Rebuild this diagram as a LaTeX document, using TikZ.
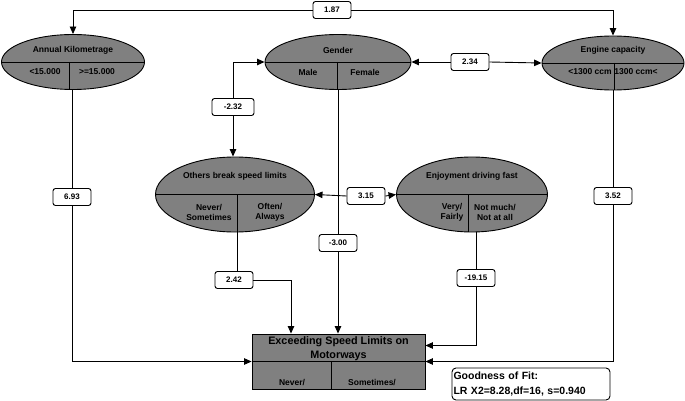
\documentclass[tikz,border=0pt]{standalone}
\usepackage{fontspec}
\setmainfont{Liberation Sans}
\usetikzlibrary{arrows.meta,shapes.geometric}
\definecolor{ellgray}{RGB}{128,128,128}
\tikzset{
  ln/.style={line width=0.9pt},
  >={Triangle[length=7.5pt,width=6.5pt]},
  ell/.style={ellipse, draw, fill=ellgray, line width=0.9pt, inner sep=0pt,
    path picture={
      \draw[line width=0.9pt] (path picture bounding box.west) -- (path picture bounding box.east);
      \draw[line width=0.9pt] ([xshift=#1]path picture bounding box.center) -- ++(0pt,-60pt);
    }},
  etxt/.style={font=\bfseries\fontsize{8.5}{10}\selectfont, align=center, inner sep=0pt},
  lab/.style={draw, rounded corners=2.5pt, fill=white, line width=0.9pt, minimum width=38pt,
    minimum height=17pt, inner sep=1pt, font=\bfseries\fontsize{8}{9}\selectfont},
}
\begin{document}
\begin{tikzpicture}[x=1pt,y=-1pt]
\useasboundingbox (0,0) rectangle (685,401);
% ellipses
\node[ell=-4pt, minimum width=143pt, minimum height=55pt] (ak) at (73,62) {};
\node[ell=-1pt, minimum width=146pt, minimum height=55pt] (gen) at (338,62) {};
\node[ell=1pt, minimum width=142pt, minimum height=54pt] (ec) at (613,63) {};
\node[ell=2pt, minimum width=159pt, minimum height=75pt] (obs) at (235,194.5) {};
\node[ell=-4pt, minimum width=151pt, minimum height=75pt] (enj) at (472,194.5) {};
% outcome box
\node[draw, fill=ellgray, line width=0.9pt, minimum width=173pt, minimum height=55pt, inner sep=0pt] (ex) at (338.5,361.5) {};
\draw[ln] (ex.west) -- (ex.east);
\draw[ln] (331,361.5) -- (331,389);
% ellipse texts
\node[etxt] (akt) at (73,50) {Annual Kilometrage};
\node[etxt] (ak1) at (45,72) {<15.000};
\node[etxt] (ak2) at (97,72) {>=15.000};
\node[etxt] (gent) at (338,50) {Gender};
\node[etxt] (gen1) at (308,72) {Male};
\node[etxt] (gen2) at (365,72) {Female};
\node[etxt] (ect) at (613,50) {Engine capacity};
\node[etxt] (ec1) at (590,72) {<1300 ccm};
\node[etxt] (ec2) at (636,72) {1300 ccm<};
\node[etxt] (obst) at (235,176) {Others break speed limits};
\node[etxt] (obs1) at (209,212) {Never/\\Sometimes};
\node[etxt] (obs2) at (270,212) {Often/\\Always};
\node[etxt] (enjt) at (472,176) {Enjoyment driving fast};
\node[etxt] (enj1) at (452,212) {Very/\\Fairly};
\node[etxt] (enj2) at (495,212) {Not much/\\Not at all};
\node[etxt, font=\bfseries\fontsize{10.8}{14}\selectfont] (ext) at (338.5,349) {Exceeding Speed Limits on\\Motorways};
\node[etxt] (ex1) at (292,383) {Never/};
\node[etxt] (ex2) at (372,383) {Sometimes/};
% coefficient labels
\node[lab] (l187) at (332,10) {1.87};
\node[lab, minimum width=42pt] (l232) at (233,107) {-2.32};
\node[lab] (l234) at (470,62) {2.34};
\node[lab] (l315) at (366,196) {3.15};
\node[lab] (l300) at (338,243) {-3.00};
\node[lab] (l693) at (72,197) {6.93};
\node[lab] (l352) at (613,196) {3.52};
\node[lab] (l1915) at (476,278) {-19.15};
\node[lab] (l242) at (234,280) {2.42};
\coordinate (exr) at ([yshift=16pt]ex.east);
\coordinate (exl) at ([xshift=-47.5pt]ex.north);
% connectors
\draw[ln,->] (l187.west) -| (ak.north);
\draw[ln,->] (l187.east) -| (ec.north);
\draw[ln,->] (l232.north) |- (gen.west);
\draw[ln,->] (l232.south) -- (l232.south |- obs.north);
\draw[ln,->] (l234.west) -- (gen.east);
\draw[ln,->] (l234.east) -- (ec.west);
\draw[ln,->] (l315.west) -- (obs.east);
\draw[ln,->] (l315.east) -- (enj.west);
\draw[ln] (gen.south) -- (l300.north);
\draw[ln,->] (l300.south) -- (l300.south |- ex.north);
\draw[ln] (ak.south -| l693.north) -- (l693.north);
\draw[ln,->] (l693.south) |- (ex.west);
\draw[ln] (ec.south) -- (l352.north);
\draw[ln,->] (l352.south) |- (ex.east);
\draw[ln] (l1915.north |- enj.south) -- (l1915.north);
\draw[ln,->] (l1915.south) |- (exr);
\draw[ln] ([xshift=3pt]l242.north |- obs.south) -- ([xshift=3pt]l242.north);
\draw[ln,->] (l242.east) -| (exl);
% goodness of fit
\node[draw, rounded corners=4pt, line width=0.9pt, minimum width=158pt, minimum height=32pt, inner sep=1.5pt,
  text width=155pt, align=left, font=\bfseries\fontsize{10.5}{15}\selectfont] (gof) at (531,384)
  {Goodness of Fit:\\LR X2=8.28,df=16, s=0.940};
\end{tikzpicture}
\end{document}
